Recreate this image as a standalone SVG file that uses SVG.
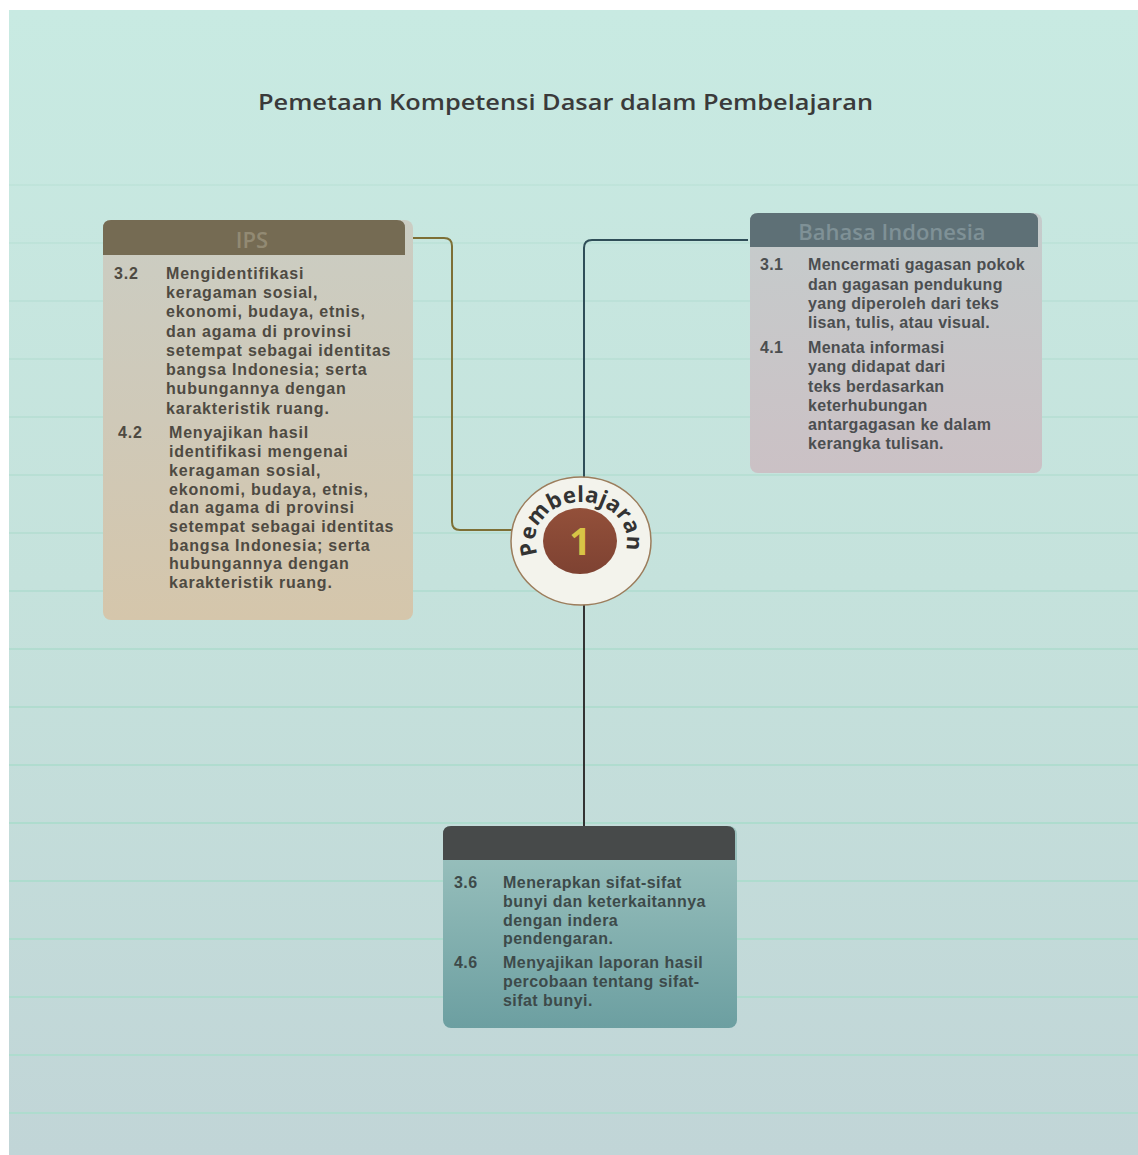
<svg xmlns="http://www.w3.org/2000/svg" width="1138" height="1155" viewBox="0 0 1138 1155">
  <defs>
    <linearGradient id="bg" x1="0" y1="0" x2="0" y2="1">
      <stop offset="0" stop-color="#c8eae2"/>
      <stop offset="0.5" stop-color="#c5e2dc"/>
      <stop offset="1" stop-color="#c1d5d7"/>
    </linearGradient>
    <linearGradient id="gIps" x1="0" y1="0" x2="0" y2="1">
      <stop offset="0" stop-color="#cbcdc3"/>
      <stop offset="0.5" stop-color="#cfc9b8"/>
      <stop offset="1" stop-color="#d5c6ab"/>
    </linearGradient>
    <linearGradient id="gBi" x1="0" y1="0" x2="0" y2="1">
      <stop offset="0" stop-color="#c5cccc"/>
      <stop offset="1" stop-color="#cbc1c5"/>
    </linearGradient>
    <linearGradient id="gIpa" x1="0" y1="0" x2="0" y2="1">
      <stop offset="0" stop-color="#9ec4c0"/>
      <stop offset="1" stop-color="#6c9fa1"/>
    </linearGradient>
    <linearGradient id="gOne" x1="0" y1="0" x2="0" y2="1">
      <stop offset="0" stop-color="#93503a"/>
      <stop offset="1" stop-color="#7e4232"/>
    </linearGradient>
    <path id="arc" d="M537.8 554.3 A46 39 0 1 1 624.2 554.3"/>
  </defs>
  <style>
    .body { font-family: "Liberation Sans", Arial, sans-serif; font-weight: 700; font-size: 16px; }
    .ips { fill: #4e4a42; letter-spacing: 0.8px; }
    .bi { fill: #4b4e50; letter-spacing: 0.3px; }
    .ipa { fill: #3d4a4a; letter-spacing: 0.45px; }
    .head { font-family: "Open Sans", "Noto Sans", sans-serif; font-weight: 600; font-size: 22px; text-anchor: middle; }
    .rule { stroke: #aedcce; stroke-width: 2; }
    .conn { fill: none; stroke-width: 2; }
  </style>

  <rect x="0" y="0" width="1138" height="1155" fill="#ffffff"/>
  <rect x="9" y="10" width="1129" height="1145" fill="url(#bg)"/>

  <g id="rules">
    <line class="rule" x1="9" y1="185" x2="1138" y2="185" opacity="0.3"/>
    <line class="rule" x1="9" y1="243" x2="1138" y2="243" opacity="0.35"/>
    <line class="rule" x1="9" y1="301" x2="1138" y2="301" opacity="0.4"/>
    <line class="rule" x1="9" y1="359" x2="1138" y2="359" opacity="0.45"/>
    <line class="rule" x1="9" y1="417" x2="1138" y2="417" opacity="0.5"/>
    <line class="rule" x1="9" y1="475" x2="1138" y2="475" opacity="0.55"/>
    <line class="rule" x1="9" y1="533" x2="1138" y2="533" opacity="0.6"/>
    <line class="rule" x1="9" y1="591" x2="1138" y2="591" opacity="0.7"/>
    <line class="rule" x1="9" y1="649" x2="1138" y2="649" opacity="0.8"/>
    <line class="rule" x1="9" y1="707" x2="1138" y2="707" opacity="0.85"/>
    <line class="rule" x1="9" y1="765" x2="1138" y2="765" opacity="0.9"/>
    <line class="rule" x1="9" y1="823" x2="1138" y2="823"/>
    <line class="rule" x1="9" y1="881" x2="1138" y2="881"/>
    <line class="rule" x1="9" y1="939" x2="1138" y2="939"/>
    <line class="rule" x1="9" y1="997" x2="1138" y2="997"/>
    <line class="rule" x1="9" y1="1055" x2="1138" y2="1055"/>
    <line class="rule" x1="9" y1="1113" x2="1138" y2="1113"/>
  </g>

  <text id="title" x="258" y="110" textLength="615" lengthAdjust="spacingAndGlyphs" font-family="'Open Sans', 'Noto Sans', sans-serif" font-weight="600" font-size="21" fill="#3a3a3a">Pemetaan Kompetensi Dasar dalam Pembelajaran</text>

  <g id="connectors">
    <path class="conn" stroke="#7d6f35" d="M405 238 H444 Q452 238 452 246 V522 Q452 530 460 530 H512"/>
    <path class="conn" stroke="#2f4e58" d="M748 240 H592 Q584 240 584 248 V478"/>
    <path class="conn" stroke="#333333" d="M584 603 V827"/>
  </g>

  <g id="ips">
    <rect x="103" y="220" width="310" height="400" rx="8" fill="url(#gIps)"/>
    <path d="M103 255 V228 Q103 220 111 220 H397 Q405 220 405 228 V255 Z" fill="#756b53"/>
    <text class="head" x="252" y="248" fill="#928a73">IPS</text>
    <g class="body ips">
      <text x="114" y="279">3.2</text>
      <text x="166" y="279">Mengidentifikasi</text>
      <text x="166" y="298">keragaman sosial,</text>
      <text x="166" y="317">ekonomi, budaya, etnis,</text>
      <text x="166" y="337">dan agama di provinsi</text>
      <text x="166" y="356">setempat sebagai identitas</text>
      <text x="166" y="375">bangsa Indonesia; serta</text>
      <text x="166" y="394">hubungannya dengan</text>
      <text x="166" y="414">karakteristik ruang.</text>
      <text x="118" y="438">4.2</text>
      <text x="169" y="438">Menyajikan hasil</text>
      <text x="169" y="457">identifikasi mengenai</text>
      <text x="169" y="476">keragaman sosial,</text>
      <text x="169" y="495">ekonomi, budaya, etnis,</text>
      <text x="169" y="513">dan agama di provinsi</text>
      <text x="169" y="532">setempat sebagai identitas</text>
      <text x="169" y="551">bangsa Indonesia; serta</text>
      <text x="169" y="569">hubungannya dengan</text>
      <text x="169" y="588">karakteristik ruang.</text>
    </g>
  </g>

  <g id="bahasa-indonesia">
    <rect x="750" y="213" width="292" height="260" rx="8" fill="url(#gBi)"/>
    <path d="M750 247 V221 Q750 213 758 213 H1030 Q1038 213 1038 221 V247 Z" fill="#5e7076"/>
    <text class="head" x="892" y="240" fill="#7f9196">Bahasa Indonesia</text>
    <g class="body bi">
      <text x="760" y="270">3.1</text>
      <text x="808" y="270">Mencermati gagasan pokok</text>
      <text x="808" y="290">dan gagasan pendukung</text>
      <text x="808" y="309">yang diperoleh dari teks</text>
      <text x="808" y="328">lisan, tulis, atau visual.</text>
      <text x="760" y="353">4.1</text>
      <text x="808" y="353">Menata informasi</text>
      <text x="808" y="372">yang didapat dari</text>
      <text x="808" y="392">teks berdasarkan</text>
      <text x="808" y="411">keterhubungan</text>
      <text x="808" y="430">antargagasan ke dalam</text>
      <text x="808" y="449">kerangka tulisan.</text>
    </g>
  </g>

  <g id="ipa">
    <rect x="443" y="826" width="294" height="202" rx="8" fill="url(#gIpa)"/>
    <path d="M443 860 V834 Q443 826 451 826 H727 Q735 826 735 834 V860 Z" fill="#474a4a"/>
    <g class="body ipa">
      <text x="454" y="888">3.6</text>
      <text x="503" y="888">Menerapkan sifat-sifat</text>
      <text x="503" y="907">bunyi dan keterkaitannya</text>
      <text x="503" y="926">dengan indera</text>
      <text x="503" y="944">pendengaran.</text>
      <text x="454" y="968">4.6</text>
      <text x="503" y="968">Menyajikan laporan hasil</text>
      <text x="503" y="987">percobaan tentang sifat-</text>
      <text x="503" y="1006">sifat bunyi.</text>
    </g>
  </g>

  <g id="pembelajaran-1">
    <ellipse cx="581" cy="541" rx="70" ry="64" fill="#f3f3ec" stroke="#9c7d5c" stroke-width="1.5"/>
    <ellipse cx="580" cy="541" rx="37" ry="33" fill="url(#gOne)"/>
    <text x="580" y="555" text-anchor="middle" font-family="'Open Sans', 'Noto Sans', sans-serif" font-weight="700" font-size="38" fill="#d8c446">1</text>
    <text font-family="'Open Sans', 'Noto Sans', sans-serif" font-weight="700" font-size="22" fill="#333333"><textPath href="#arc" textLength="156" lengthAdjust="spacing">Pembelajaran</textPath></text>
  </g>
</svg>
